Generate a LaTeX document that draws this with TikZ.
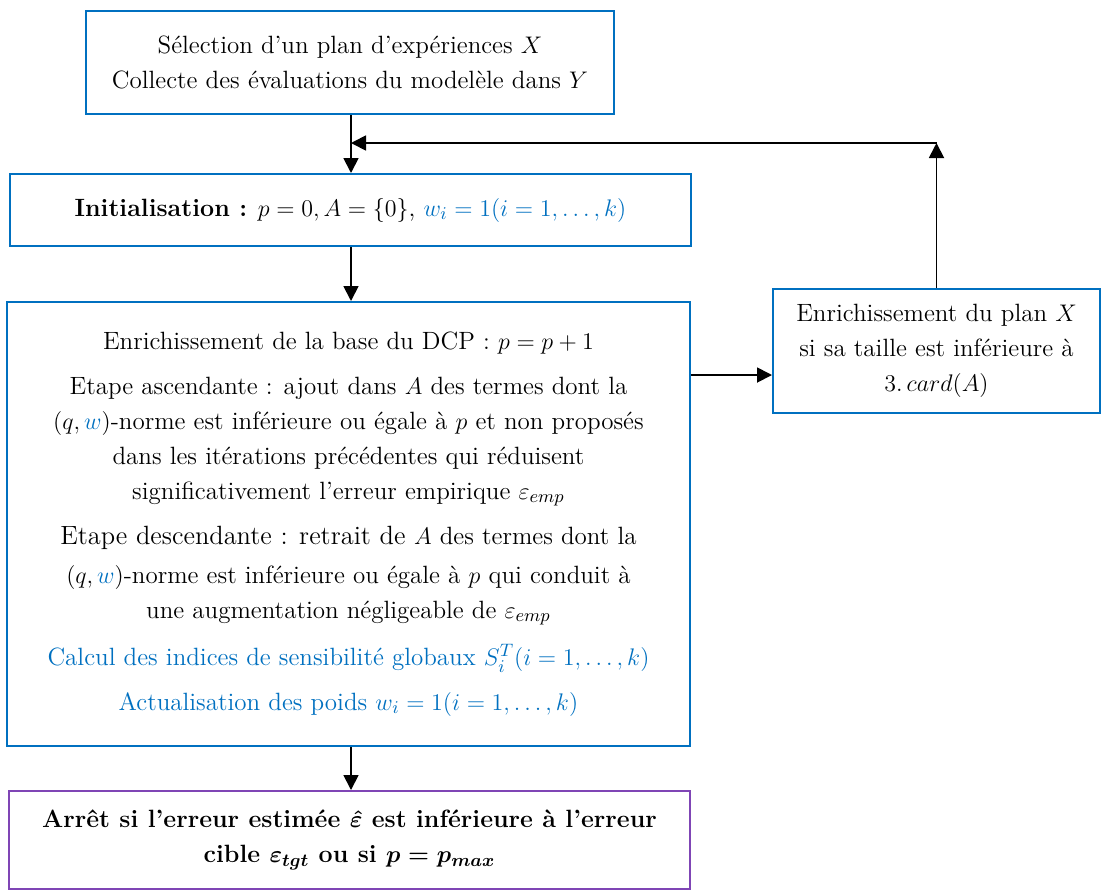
\documentclass[tikz,border=0pt]{standalone}
\usepackage{amsmath}
\usetikzlibrary{arrows.meta}
\definecolor{boxblue}{HTML}{0070C0}
\definecolor{txtblue}{HTML}{0070C0}
\definecolor{boxpurple}{HTML}{7F45B5}
\tikzset{
  flowbox/.style={draw=boxblue, line width=1pt, rectangle, align=center, inner sep=0pt,
    font=\fontsize{12.5}{17.5}\selectfont},
  stopbox/.style={flowbox, draw=boxpurple, font=\fontsize{12.5}{17.5}\selectfont\bfseries\boldmath},
  arr/.style={draw=black, line width=0.9pt, -{Triangle[width=7.5pt,length=7.5pt]}}
}
\begin{document}
\begin{tikzpicture}[x=0.5pt,y=-0.5pt]
\useasboundingbox (0,0) rectangle (1102,890);

\node[flowbox, minimum width=264pt, minimum height=51.5pt] (top) at (350,62.5)
  {Sélection d’un plan d’expériences $X$\\ Collecte des évaluations du modelèle dans $Y$};

\node[flowbox, minimum width=340.5pt, minimum height=36pt] (init) at (350.5,210)
  {\textbf{Initialisation :} $p=0, A=\{0\}$, \textcolor{txtblue}{$w_i=1(i=1,\dots,k)$}};

\node[flowbox, minimum width=341.5pt, minimum height=222pt] (big) at (348.5,524)
  {Enrichissement de la base du DCP : $p=p+1$\\[5pt]
   Etape ascendante : ajout dans $A$ des termes dont la\\
   $(q,\textcolor{txtblue}{w})$-norme est inférieure ou égale à $p$ et non proposés\\
   dans les itérations précédentes qui réduisent\\
   significativement l’erreur empirique $\varepsilon_{emp}$\\[5pt]
   {\fontsize{13.2}{17.5}\selectfont Etape descendante : retrait de $A$} des termes dont la\\[2pt]
   $(q,\textcolor{txtblue}{w})$-norme est inférieure ou égale à $p$ qui conduit à\\
   une augmentation négligeable de $\varepsilon_{emp}$\\[6pt]
   \textcolor{txtblue}{Calcul des indices de sensibilité globaux $S_i^T(i=1,\dots,k)$}\\[5pt]
   \textcolor{txtblue}{Actualisation des poids $w_i=1(i=1,\dots,k)$}};

\node[flowbox, minimum width=163.5pt, minimum height=62pt] (right) at (936.5,351)
  {Enrichissement du plan $X$\\ si sa taille est inférieure à\\ $3.\,card(A)$};

\node[stopbox, minimum width=340.5pt, minimum height=49pt] (stop) at (349.5,840)
  {Arrêt si l’erreur estimée $\hat{\varepsilon}$ est inférieure à l’erreur\\
   cible $\varepsilon_{tgt}$ ou si $p=p_{max}$};

\coordinate (fb) at (351,143);
\coordinate (corner) at (right.north |- fb);

\draw[arr] (top.south -| fb) -- (init.north -| fb);
\draw[arr] (right.north) -- (corner);
\draw[arr] (corner) -- (fb);
\draw[arr] (init.south -| fb) -- (big.north -| fb);
\draw[arr] ([yshift=-12pt]big.east |- right.west) -- ([yshift=-12pt]right.west);
\draw[arr] (big.south -| fb) -- (stop.north -| fb);
\end{tikzpicture}
\end{document}
